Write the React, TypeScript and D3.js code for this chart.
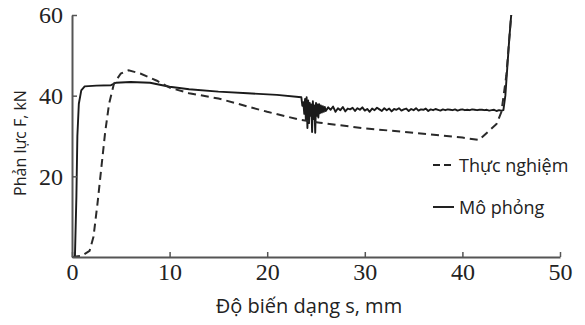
import React, { useEffect, useRef } from 'react';
import * as d3 from 'd3';

// Mô phỏng (simulation) – solid line, s in mm, F in kN
const simS = [0.3, 0.45, 0.55, 0.7, 0.95, 1.3, 2.5, 4.0, 4.5, 6.0, 8.0, 10.0, 12.0, 15.0, 18.0, 21.0, 23.5, 23.6,
  23.7, 23.8, 23.88, 23.96, 24.04, 24.12, 24.2, 24.28, 24.36, 24.44, 24.52, 24.6, 24.68, 24.76, 24.84, 24.92, 25.0,
  25.08, 25.16, 25.24, 25.32, 25.4, 25.5, 25.6, 25.7, 25.8, 25.9,
  26.0, 26.25, 26.5, 26.75, 27.0, 27.25, 27.5, 27.75, 28.0, 28.25,
  28.5, 28.75, 29.0, 29.25, 29.5, 29.75, 30.0, 30.25, 30.5, 30.75,
  31.0, 31.25, 31.5, 31.75, 32.0, 32.25, 32.5, 32.75, 33.0, 33.25,
  33.5, 33.75, 34.0, 34.25, 34.5, 34.75, 35.0, 35.25, 35.5, 35.75,
  36.0, 36.25, 36.5, 36.75, 37.0, 37.25, 37.5, 37.75, 38.0, 38.25,
  38.5, 38.75, 39.0, 39.25, 39.5, 39.75, 40.0, 40.25, 40.5, 40.75,
  41.0, 41.25, 41.5, 41.75, 42.0, 42.25, 42.5, 42.75, 43.0, 43.25,
  43.5, 43.75, 44.0,
  44.2, 44.4, 44.6, 44.8, 45.0];
const simF = [0, 15, 30, 38, 41.3, 42.3, 42.5, 42.6, 43.2, 43.4, 43.2, 42.2, 41.6, 41.0, 40.6, 40.2, 39.6, 37.5,
  38.4, 35.5, 39.2, 34.0, 39.6, 32.0, 38.8, 33.2, 38.2, 35.0, 37.8, 31.0, 38.6, 34.2, 37.6, 30.8, 38.2,
  35.0, 37.8, 34.6, 37.9, 35.6, 37.6, 35.8, 37.4, 36.0, 37.2,
  36.2, 37.1, 36.5, 37.3, 36.0, 36.9, 36.4, 37.2, 36.1, 36.8,
  36.6, 37.0, 36.2, 36.9, 36.5, 37.1, 36.3, 36.7, 36.0, 36.8,
  36.4, 37.0, 36.6, 36.2, 36.9, 36.4, 36.8, 36.1, 36.7, 36.5,
  36.9, 36.3, 36.6, 36.8, 36.2, 36.7, 36.4, 36.9, 36.3, 36.6,
  36.5, 36.8, 36.2, 36.6, 36.4, 36.7, 36.5, 36.3, 36.6, 36.4,
  36.6, 36.5, 36.4, 36.6, 36.3, 36.5, 36.6, 36.4, 36.5, 36.4,
  36.6, 36.5, 36.4, 36.5, 36.5, 36.4, 36.5, 36.3, 36.4, 36.5,
  36.2, 36.4, 36.3,
  36.4, 40, 47, 54, 60];

// Thực nghiệm (experiment) – dashed line
const expS = [0, 1.0, 1.8, 2.2, 2.6, 3.0, 3.4, 3.8, 4.3, 5.0, 5.8, 7.0, 8.7, 10.0, 12.0, 15.0, 20.0, 23.4, 25.4,
  30.0, 35.0, 40.0, 41.7, 43.5, 44.0, 44.5, 45.0];
const expF = [0, 0.3, 1.5, 5, 13, 22, 31, 38, 43, 45.5, 46.3, 45.5, 43.7, 42.0, 40.6, 39.3, 36.0, 34.0, 33.3,
  31.9, 30.8, 29.6, 29.0, 33.0, 36.0, 45.0, 60];

const xTicks = [0, 10, 20, 30, 40, 50];
const yTicks = [20, 40, 60];
const legendLabels = ['Thực nghiệm', 'Mô phỏng'];
const xTitle = 'Độ biến dạng s, mm';
const yTitle = 'Phản lực F, kN';

const W = 585;
const H = 325;
const m = { left: 72, right: 25, top: 15, bottom: 68 };
const serif = "'Liberation Serif', 'Times New Roman', 'DejaVu Serif', serif";
const sans = "'Open Sans', Lato, sans-serif";

const App = () => {
  const svgRef = useRef<SVGSVGElement>(null);

  useEffect(() => {
    const svg = d3.select(svgRef.current);
    svg.selectAll('*').remove();

    const x = d3.scaleLinear().domain([0, 50]).range([m.left, W - m.right]);
    const y = d3.scaleLinear().domain([0, 60]).range([H - m.bottom, m.top]);

    const line = d3.line<[number, number]>()
      .x(d => x(d[0]))
      .y(d => y(d[1]));

    const sim = simS.map((s, i) => [s, simF[i]] as [number, number]);
    const exp = expS.map((s, i) => [s, expF[i]] as [number, number]);

    svg.append('path')
      .attr('d', line(sim))
      .attr('fill', 'none')
      .attr('stroke', '#1a1a1a')
      .attr('stroke-width', 1.9)
      .attr('stroke-linejoin', 'round');

    svg.append('path')
      .attr('d', line(exp))
      .attr('fill', 'none')
      .attr('stroke', '#2a2a2a')
      .attr('stroke-width', 2)
      .attr('stroke-dasharray', '8,5');

    const gx = svg.append('g')
      .attr('transform', `translate(0,${H - m.bottom})`)
      .call(d3.axisBottom(x).tickValues(xTicks).tickSizeInner(-5).tickSizeOuter(0).tickPadding(6));
    const gy = svg.append('g')
      .attr('transform', `translate(${m.left},0)`)
      .call(d3.axisLeft(y).tickValues(yTicks).tickSizeInner(-5).tickSizeOuter(0).tickPadding(9));

    [gx, gy].forEach(g => {
      g.attr('font-family', serif).attr('font-size', 24);
      g.select('.domain').attr('stroke', '#555').attr('stroke-width', 2);
      g.selectAll('.tick line').attr('stroke', '#555').attr('stroke-width', 1.5);
      g.selectAll('.tick text')
        .attr('fill', '#222')
        .attr('font-family', serif)
        .attr('font-size', 24);
    });

    svg.append('text')
      .attr('x', 309)
      .attr('y', 313)
      .attr('text-anchor', 'middle')
      .attr('font-family', sans)
      .attr('font-size', 20)
      .attr('fill', '#222')
      .text(xTitle);

    svg.append('text')
      .attr('transform', 'translate(26,143) rotate(-90)')
      .attr('text-anchor', 'middle')
      .attr('font-family', sans)
      .attr('font-size', 16)
      .attr('fill', '#222')
      .text(yTitle);

    const leg = svg.append('g');
    legendLabels.forEach((lab, i) => {
      const ly = 165 + i * 42;
      leg.append('line')
        .attr('x1', 433).attr('x2', 454)
        .attr('y1', ly).attr('y2', ly)
        .attr('stroke', '#222')
        .attr('stroke-width', 2)
        .attr('stroke-dasharray', i === 0 ? '7,4' : null);
      leg.append('text')
        .attr('x', 459)
        .attr('y', ly + 7)
        .attr('font-family', sans)
        .attr('font-size', 18)
        .attr('fill', '#222')
        .text(lab);
    });
  }, []);

  return (
    <svg ref={svgRef} width={W} height={H}
      style={{ position: 'absolute', left: 0, top: 0, background: '#fff' }} />
  );
};

export default App;
